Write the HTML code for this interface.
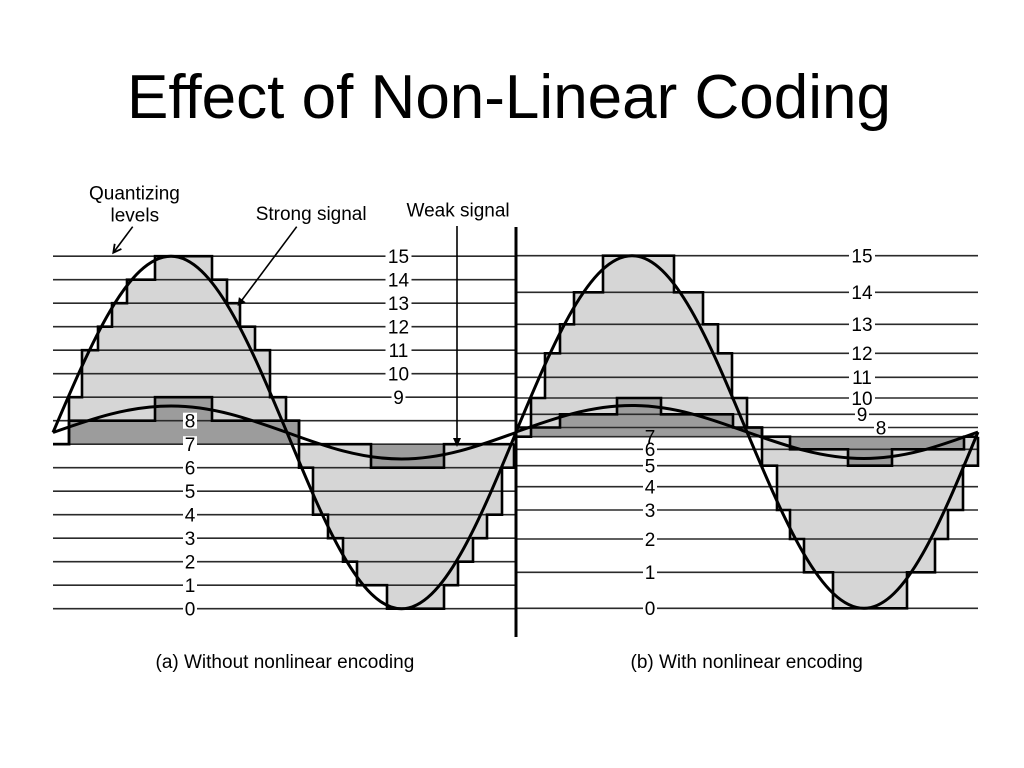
<!DOCTYPE html>
<html>
<head>
<meta charset="utf-8">
<style>
html,body{margin:0;padding:0;background:#fff;}
svg{display:block;}
text{font-family:"Liberation Sans",Arial,sans-serif;fill:#000;}
</style>
</head>
<body>
<svg width="1024" height="768" viewBox="0 0 1024 768" xmlns="http://www.w3.org/2000/svg">
<rect width="1024" height="768" fill="#fff"/>
<text x="127" y="118" font-size="62">Effect of Non-Linear Coding</text>

<!-- fills -->
<path d="M53,444.2 H69 V397.2 H82 V350.2 H98 V326.7 H112 V303.2 H127 V279.7 H155 V256.2 H212 V279.7 H227 V303.2 H240 V326.7 H255 V350.2 H270 V397.2 H286 V420.7 H299 V467.7 H313 V514.7 H328 V538.2 H343 V561.7 H357 V585.2 H387 V608.7 H444 V585.2 H458 V561.7 H473 V538.2 H487 V514.7 H502 V467.7 H514 V444.2 Z" fill="#d6d6d6"/>
<path d="M53,444.2 H69 V420.7 H155 V397.2 H212 V420.7 H299 V444.2 H371 V467.7 H444 V444.2 H514 Z" fill="#9c9c9c"/>
<path d="M516,436.7 V427.5 H531 V398 H545 V353.3 H560 V324.3 H574 V292.3 H603 V255.7 H674 V292.3 H703 V324.3 H718 V353.3 H732 V398 H747 V427.5 H762 V465.7 H777 V510 H790 V539 H804 V572.3 H833 V608.3 H907 V572.3 H935 V539 H948 V510 H963 V465.7 H978 V436.7 Z" fill="#d6d6d6"/>
<path d="M516,436.7 H531 V427.5 H560 V414.3 H617 V398 H661 V414.3 H733 V427.5 H762 V436.7 H790 V449.3 H848 V465.7 H892 V449.3 H964 V436.7 H978 Z" fill="#9c9c9c"/>

<!-- level lines -->
<g stroke="#2a2a2a" stroke-width="1.6">
<line x1="53" x2="516" y1="608.7" y2="608.7"/>
<line x1="53" x2="516" y1="585.2" y2="585.2"/>
<line x1="53" x2="516" y1="561.7" y2="561.7"/>
<line x1="53" x2="516" y1="538.2" y2="538.2"/>
<line x1="53" x2="516" y1="514.7" y2="514.7"/>
<line x1="53" x2="516" y1="491.2" y2="491.2"/>
<line x1="53" x2="516" y1="467.7" y2="467.7"/>
<line x1="53" x2="516" y1="444.2" y2="444.2"/>
<line x1="53" x2="516" y1="420.7" y2="420.7"/>
<line x1="53" x2="516" y1="397.2" y2="397.2"/>
<line x1="53" x2="516" y1="373.7" y2="373.7"/>
<line x1="53" x2="516" y1="350.2" y2="350.2"/>
<line x1="53" x2="516" y1="326.7" y2="326.7"/>
<line x1="53" x2="516" y1="303.2" y2="303.2"/>
<line x1="53" x2="516" y1="279.7" y2="279.7"/>
<line x1="53" x2="516" y1="256.2" y2="256.2"/>

<line x1="516" x2="978" y1="608.3" y2="608.3"/>
<line x1="516" x2="978" y1="572.3" y2="572.3"/>
<line x1="516" x2="978" y1="539" y2="539"/>
<line x1="516" x2="978" y1="510" y2="510"/>
<line x1="516" x2="978" y1="486.7" y2="486.7"/>
<line x1="516" x2="978" y1="465.7" y2="465.7"/>
<line x1="516" x2="978" y1="449.3" y2="449.3"/>
<line x1="516" x2="978" y1="436.7" y2="436.7"/>
<line x1="516" x2="978" y1="427.5" y2="427.5"/>
<line x1="516" x2="978" y1="414.3" y2="414.3"/>
<line x1="516" x2="978" y1="398" y2="398"/>
<line x1="516" x2="978" y1="377.3" y2="377.3"/>
<line x1="516" x2="978" y1="353.3" y2="353.3"/>
<line x1="516" x2="978" y1="324.3" y2="324.3"/>
<line x1="516" x2="978" y1="292.3" y2="292.3"/>
<line x1="516" x2="978" y1="255.7" y2="255.7"/>
</g>

<!-- label backgrounds -->
<g fill="#fff">
<rect x="385.5" y="248.2" width="26" height="16"/>
<rect x="385.5" y="271.7" width="26" height="16"/>
<rect x="385.5" y="295.2" width="26" height="16"/>
<rect x="385.5" y="318.7" width="26" height="16"/>
<rect x="385.5" y="342.2" width="26" height="16"/>
<rect x="385.5" y="365.7" width="26" height="16"/>
<rect x="391.5" y="389.2" width="14" height="16"/>
<rect x="183" y="412.7" width="14" height="16"/>
<rect x="183" y="436.2" width="14" height="16"/>
<rect x="183" y="459.7" width="14" height="16"/>
<rect x="183" y="483.2" width="14" height="16"/>
<rect x="183" y="506.7" width="14" height="16"/>
<rect x="183" y="530.2" width="14" height="16"/>
<rect x="183" y="553.7" width="14" height="16"/>
<rect x="183" y="577.2" width="14" height="16"/>
<rect x="183" y="600.7" width="14" height="16"/>

<rect x="849" y="247.7" width="26" height="16"/>
<rect x="849" y="284.3" width="26" height="16"/>
<rect x="849" y="316.3" width="26" height="16"/>
<rect x="849" y="345.3" width="26" height="16"/>
<rect x="849" y="369.3" width="26" height="16"/>
<rect x="849" y="390" width="26" height="15"/>
<rect x="855" y="406.5" width="14" height="15"/>
<rect x="874" y="420" width="14" height="15"/>
<rect x="643" y="437.8" width="14" height="6"/>
<rect x="643" y="442" width="14" height="15"/>
<rect x="643" y="458" width="14" height="15"/>
<rect x="643" y="478.7" width="14" height="16"/>
<rect x="643" y="502" width="14" height="16"/>
<rect x="643" y="531" width="14" height="16"/>
<rect x="643" y="564.3" width="14" height="16"/>
<rect x="643" y="600.3" width="14" height="16"/>
</g>

<!-- labels -->
<g font-size="19" text-anchor="middle">
<text x="398.5" y="263">15</text>
<text x="398.5" y="286.5">14</text>
<text x="398.5" y="310">13</text>
<text x="398.5" y="333.5">12</text>
<text x="398.5" y="357">11</text>
<text x="398.5" y="380.5">10</text>
<text x="398.5" y="404">9</text>
<text x="190" y="427.5">8</text>
<text x="190" y="451">7</text>
<text x="190" y="474.5">6</text>
<text x="190" y="498">5</text>
<text x="190" y="521.5">4</text>
<text x="190" y="545">3</text>
<text x="190" y="568.5">2</text>
<text x="190" y="592">1</text>
<text x="190" y="615.5">0</text>

<text x="862" y="262.5">15</text>
<text x="862" y="299.1">14</text>
<text x="862" y="331.1">13</text>
<text x="862" y="360.1">12</text>
<text x="862" y="384.1">11</text>
<text x="862" y="404.8">10</text>
<text x="862" y="421.1">9</text>
<text x="881" y="434.3">8</text>
<text x="650" y="443.5">7</text>
<text x="650" y="456.1">6</text>
<text x="650" y="472.5">5</text>
<text x="650" y="493.5">4</text>
<text x="650" y="516.8">3</text>
<text x="650" y="545.8">2</text>
<text x="650" y="579.1">1</text>
<text x="650" y="615.1">0</text>
</g>

<!-- staircase outlines -->
<g fill="none" stroke="#000" stroke-width="2.6" stroke-linejoin="miter">
<path d="M53,444.2 H69 V397.2 H82 V350.2 H98 V326.7 H112 V303.2 H127 V279.7 H155 V256.2 H212 V279.7 H227 V303.2 H240 V326.7 H255 V350.2 H270 V397.2 H286 V420.7 H299 V467.7 H313 V514.7 H328 V538.2 H343 V561.7 H357 V585.2 H387 V608.7 H444 V585.2 H458 V561.7 H473 V538.2 H487 V514.7 H502 V467.7 H514 V444.2"/>
<path d="M53,444.2 H69 V420.7 H155 V397.2 H212 V420.7 H299 V444.2 H371 V467.7 H444 V444.2 H514"/>
<path d="M516,436.7 V427.5 H531 V398 H545 V353.3 H560 V324.3 H574 V292.3 H603 V255.7 H674 V292.3 H703 V324.3 H718 V353.3 H732 V398 H747 V427.5 H762 V465.7 H777 V510 H790 V539 H804 V572.3 H833 V608.3 H907 V572.3 H935 V539 H948 V510 H963 V465.7 H978 V436.7"/>
<path d="M516,436.7 H531 V427.5 H560 V414.3 H617 V398 H661 V414.3 H733 V427.5 H762 V436.7 H790 V449.3 H848 V465.7 H892 V449.3 H964 V436.7 H978"/>
</g>

<!-- sine curves -->
<g fill="none" stroke="#000" stroke-width="3">
<path d="M53,432.5 C91.48,342.18 128.29,256.2 171,256.2 C212.98,256.2 249.17,342.18 287,432.5 C324.34,522.82 360.06,608.8 401.5,608.8 C442.94,608.8 478.66,522.82 516,432.5"/>
<path d="M53,432.5 C91.48,418.92 128.29,406 171,406 C212.98,406 249.17,418.92 287,432.5 C324.34,446.08 360.06,459 401.5,459 C442.94,459 478.66,446.08 516,432.5"/>
<path d="M516,432 C553.83,341.68 590.02,255.7 632,255.7 C673.62,255.7 709.49,341.68 747,432 C785.16,522.32 821.66,608.3 864,608.3 C905.26,608.3 940.82,522.32 978,432"/>
<path d="M516,432 C553.83,418.42 590.02,405.5 632,405.5 C673.62,405.5 709.49,418.42 747,432 C785.16,445.58 821.66,458.5 864,458.5 C905.26,458.5 940.82,445.58 978,432"/>
</g>

<!-- divider -->
<line x1="516" y1="227" x2="516" y2="637" stroke="#000" stroke-width="3"/>

<!-- annotations -->
<g font-size="19">
<text x="89" y="199.5">Quantizing</text>
<text x="110.5" y="221.5">levels</text>
<text x="255.7" y="220">Strong signal</text>
<text x="406.5" y="216.7">Weak signal</text>
<text x="155.5" y="668">(a) Without nonlinear encoding</text>
<text x="630.5" y="668">(b) With nonlinear encoding</text>
</g>

<g stroke="#000" stroke-width="1.6" fill="none">
<line x1="132.7" y1="226.7" x2="113.8" y2="252"/>
<polyline points="121.4,248.9 113.3,252.7 114.7,243.8" stroke-width="1.8"/>
<line x1="296.7" y1="226.7" x2="239" y2="304"/>
<line x1="457" y1="226" x2="457" y2="441"/>
</g>
<polygon points="237.5,306 245.6,302.2 238.9,297.1" fill="#000"/>
<polygon points="457,447 453,438 461,438" fill="#000"/>
</svg>
</body>
</html>
